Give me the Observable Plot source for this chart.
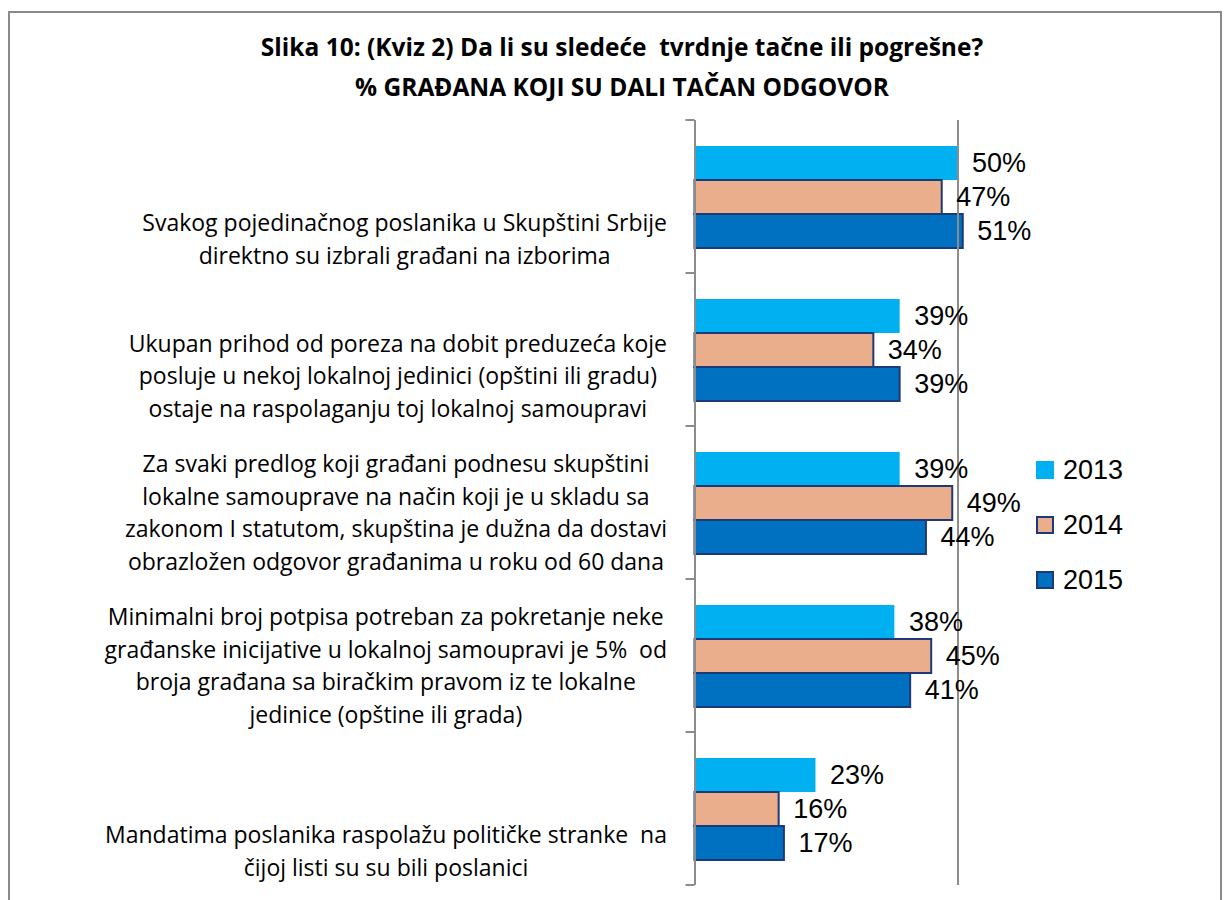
<!DOCTYPE html>
<html>
<head>
<meta charset="utf-8">
<script src="https://cdn.jsdelivr.net/npm/d3@7"></script>
<script src="https://cdn.jsdelivr.net/npm/@observablehq/plot@0.6"></script>
<style>
  html, body { margin: 0; padding: 0; background: #fff; }
  body { width: 1224px; height: 900px; position: relative; overflow: hidden; }
  #frame { position: absolute; left: 8px; top: 11px; width: 1214px; height: 920px; border: 2px solid #8a8a8a; box-sizing: border-box; }
  #title { position: absolute; left: 0; top: 27px; width: 1244px; text-align: center; font-family: "Open Sans", Lato, sans-serif; font-weight: 700; font-size: 24.5px; line-height: 40px; color: #000; white-space: pre; }
  #chart { position: absolute; left: 0; top: 100px; }
  #legend { position: absolute; left: 1036px; top: 0; font-family: "Liberation Sans", Arial, sans-serif; font-size: 27px; color: #000; }
  .item { position: absolute; left: 0; height: 30px; display: flex; align-items: center; white-space: nowrap; }
  .sw { width: 18px; height: 18px; box-sizing: border-box; margin-right: 9px; }
</style>
</head>
<body>
<div id="frame"></div>
<div id="title"></div>
<div id="chart"></div>
<div id="legend"></div>
<script>
// ---- data ----
const titleLines = [
  "Slika 10: (Kviz 2) Da li su sledeće  tvrdnje tačne ili pogrešne?",
  "% GRAĐANA KOJI SU DALI TAČAN ODGOVOR"
];
const categories = [
  "Svakog pojedinačnog poslanika u Skupštini Srbije\ndirektno su izbrali građani na izborima",
  "Ukupan prihod od poreza na dobit preduzeća koje\nposluje u nekoj lokalnoj jedinici (opštini ili gradu)\nostaje na raspolaganju toj lokalnoj samoupravi",
  "Za svaki predlog koji građani podnesu skupštini\nlokalne samouprave na način koji je u skladu sa\nzakonom I statutom, skupština je dužna da dostavi\nobrazložen odgovor građanima u roku od 60 dana",
  "Minimalni broj potpisa potreban za pokretanje neke\ngrađanske inicijative u lokalnoj samoupravi je 5%  od\nbroja građana sa biračkim pravom iz te lokalne\njedinice (opštine ili grada)",
  "Mandatima poslanika raspolažu političke stranke  na\nčijoj listi su su bili poslanici"
];
const years = ["2013", "2014", "2015"];
const values2013 = [50, 39, 39, 38, 23];
const values2014 = [47, 34, 49, 45, 16];
const values2015 = [51, 39, 44, 41, 17];
const referenceLine = [50];

// ---- styles ----
const yearFill = {"2013": "#00B0F0", "2014": "#EAAE8C", "2015": "#0070C0"};
const yearStroke = {"2013": null, "2014": "#1C3A78", "2015": "#1C3A78"};
const gray = "#8c8c8c";
const labelFontFamily = "Open Sans";
const labelFontSize = 23;

const seriesByYear = {"2013": values2013, "2014": values2014, "2015": values2015};
const rows = categories.flatMap((c, i) => years.map(y => ({category: c, year: y, value: seriesByYear[y][i]})));

document.getElementById("title").textContent = titleLines.join("\n");

// measure label widths to center each line within a right-aligned block
const ctx = document.createElement("canvas").getContext("2d");
ctx.font = `${labelFontSize}px "${labelFontFamily}"`;
const labelGap = 28;
const labelMarks = categories.map(c => {
  const w = d3.max(c.split("\n"), l => ctx.measureText(l).width);
  return Plot.text([c], {
    fy: d => d, text: d => d,
    frameAnchor: "bottom-left", textAnchor: "middle", lineAnchor: "bottom",
    lineHeight: 1.41, dx: -(labelGap + w / 2), dy: -10,
    fontFamily: labelFontFamily, fontSize: labelFontSize, fill: "#000"
  });
});

const barMarks = years.map(y => Plot.barX(rows.filter(d => d.year === y), {
  x: "value", y: "year", fy: "category",
  fill: yearFill[y],
  stroke: yearStroke[y] || "none",
  strokeWidth: 2
}));

const chart = Plot.plot({
  width: 1224,
  height: 800,
  marginTop: 18,
  marginBottom: 14,
  marginLeft: 694.5,
  marginRight: 213.9,
  style: {background: "transparent", overflow: "visible"},
  x: {domain: [0, 60], axis: null},
  y: {domain: years, paddingInner: 0, paddingOuter: 0.74, axis: null},
  fy: {domain: categories, padding: 0, axis: null},
  marks: [
    ...barMarks,
    Plot.ruleX(referenceLine, {stroke: gray, strokeWidth: 2}),
    Plot.ruleX([0], {stroke: gray, strokeWidth: 2}),
    Plot.text(rows, {
      x: "value", y: "year", fy: "category",
      text: d => `${d.value}%`, textAnchor: "start", dx: 14,
      fontFamily: "Liberation Sans", fontSize: 27, fill: "#000"
    }),
    ...labelMarks
  ]
});
document.getElementById("chart").appendChild(chart);

// boundary tick marks on the category axis, positioned via Plot's scales
const fyScale = chart.scale("fy");
const xScale = chart.scale("x");
const x0 = xScale.apply(0);
const bounds = categories.map(c => fyScale.apply(c)).concat([fyScale.apply(categories[categories.length - 1]) + fyScale.bandwidth]);
d3.select(chart).append("g")
  .selectAll("line").data(bounds).join("line")
  .attr("x1", x0 - 9).attr("x2", x0)
  .attr("y1", d => d).attr("y2", d => d)
  .attr("stroke", gray).attr("stroke-width", 2);

// legend
const legend = d3.select("#legend");
years.forEach((y, i) => {
  const item = legend.append("div").attr("class", "item").style("top", `${455 + i * 55}px`);
  item.append("div").attr("class", "sw")
    .style("background", yearFill[y])
    .style("border", yearStroke[y] ? `2px solid ${yearStroke[y]}` : "none");
  item.append("span").text(y);
});
</script>
</body>
</html>
